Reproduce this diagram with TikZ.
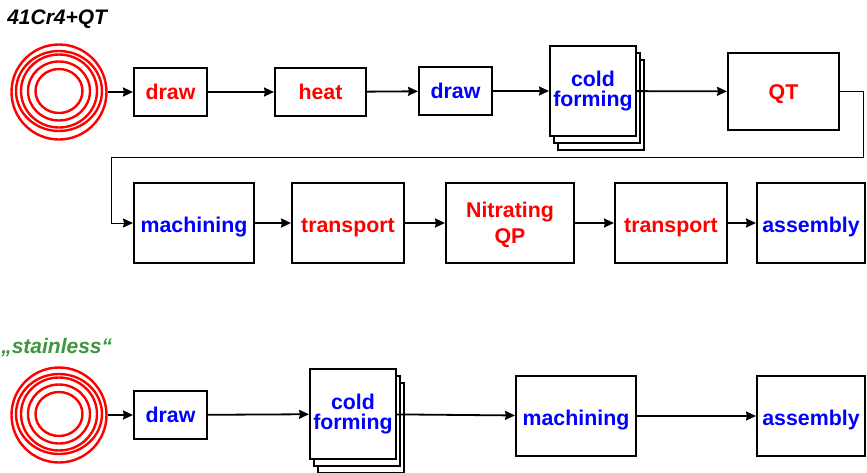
\documentclass[tikz,border=0pt]{standalone}
\usepackage{fontspec}
\setmainfont{Liberation Sans}
\usetikzlibrary{
    shapes.geometric,
    arrows.meta
}
\definecolor{stainlessgreen}{RGB}{62, 150, 62}
\definecolor{coilred}{RGB}{255, 0, 0}
\definecolor{stepblue}{RGB}{0, 0, 255}
\def\px{0.75pt}

\begin{document}
\begin{tikzpicture}[
        x=0.75pt, y=-0.75pt,
        block/.style={draw, line width=1.8*\px, fill=white, align=center, outer sep=1*\px,
            inner sep=0pt, font=\fontsize{16}{15}\selectfont\bfseries},
        oneline/.style={text height=18*\px, text depth=0pt},
        shortline/.style={text height=15.5*\px, text depth=0pt},
        stacked/.style={draw, line width=1.8*\px, fill=white, minimum width=86*\px, minimum height=90*\px},
        ring/.style={draw=coilred, ellipse, line width=2.4*\px, inner sep=0pt},
        title/.style={font=\fontsize{15.75}{15}\selectfont\bfseries\itshape, inner sep=0pt},
        arrow/.style={-{Stealth[length=10*\px, width=9*\px, inset=1*\px]}, line width=1.8*\px},
        thinarrow/.style={-{Stealth[length=10*\px, width=9*\px, inset=1*\px]}, line width=0.9*\px}
    ]
        \useasboundingbox (0, 0) rectangle (867, 472);

        % Titles
        \node[title, anchor=west] (titleqt) at (7, 19) {41Cr4+QT};
        \node[title, anchor=west, text=stainlessgreen] (titlest) at (1, 348) {„stainless“};

        % Upper coil
        \node[ring, minimum width=95*\px, minimum height=95*\px] (coil) at (59, 92) {};
        \node[ring, minimum width=86*\px, minimum height=80*\px] (coilb) at (59, 91) {};
        \node[ring, minimum width=76*\px, minimum height=73*\px] (coilc) at (59, 91) {};
        \node[ring, minimum width=62*\px, minimum height=59*\px] (coild) at (59, 91) {};
        \node[ring, minimum width=47*\px, minimum height=44*\px] (coile) at (59, 91) {};

        % First row
        \node[block, shortline, text=red, minimum width=73*\px, minimum height=48*\px] (drawa) at (170.5, 92) {draw};
        \node[block, shortline, text=red, minimum width=91*\px, minimum height=48*\px] (heat) at (320.5, 92) {heat};
        \node[block, shortline, text=stepblue, minimum width=73*\px, minimum height=48*\px] (drawb) at (455.5, 91) {draw};
        \node[stacked] (coldc) at (601, 105) {};
        \node[stacked] (coldb) at (597, 98) {};
        \node[block, text=stepblue, minimum width=86*\px, minimum height=90*\px] (colda) at (593, 91) {cold\\forming};
        \node[block, shortline, text=red, minimum width=111*\px, minimum height=77*\px] (qt) at (783.5, 91.5) {QT};

        % Second row
        \coordinate (turnr) at (863, 157);
        \coordinate (turnl) at (111, 157);
        \node[block, oneline, text=stepblue, minimum width=120*\px, minimum height=80*\px] (macha) at (194, 223) {machining};
        \node[block, oneline, text=red, minimum width=112*\px, minimum height=80*\px] (transa) at (348, 223) {transport};
        \node[block, text=red, text depth=0pt, minimum width=128*\px, minimum height=80*\px] (nitr) at (510, 223) {Nitrating\\[4.5pt]QP};
        \node[block, oneline, text=red, minimum width=112*\px, minimum height=80*\px] (transb) at (671, 223) {transport};
        \node[block, oneline, text=stepblue, minimum width=108*\px, minimum height=80*\px] (assya) at (811, 223) {assembly};

        % Lower coil
        \node[ring, minimum width=95*\px, minimum height=95*\px] (coilf) at (59, 415) {};
        \node[ring, minimum width=86*\px, minimum height=80*\px] (coilg) at (59, 414) {};
        \node[ring, minimum width=76*\px, minimum height=73*\px] (coilh) at (59, 414) {};
        \node[ring, minimum width=62*\px, minimum height=59*\px] (coili) at (59, 414) {};
        \node[ring, minimum width=47*\px, minimum height=44*\px] (coilj) at (59, 414) {};

        % Third row
        \node[block, shortline, text=stepblue, minimum width=73*\px, minimum height=48*\px] (drawc) at (170.5, 415) {draw};
        \node[stacked] (coldf) at (361, 428) {};
        \node[stacked] (colde) at (357, 421) {};
        \node[block, text=stepblue, minimum width=86*\px, minimum height=90*\px] (coldd) at (353, 414) {cold\\forming};
        \node[block, oneline, text=stepblue, minimum width=120*\px, minimum height=80*\px] (machb) at (576, 416) {machining};
        \node[block, oneline, text=stepblue, minimum width=108*\px, minimum height=80*\px] (assyb) at (811, 416) {assembly};

        % Arrows
        \draw[arrow] (coil) -- (drawa);
        \draw[arrow] (drawa) -- (heat);
        \draw[arrow] (heat) -- (drawb);
        \draw[arrow] (drawb) -- (colda);
        \draw[arrow] (colda) -- (qt);

        \draw[thinarrow] (qt) -| (turnr) -| (turnl) |- (macha);

        \draw[arrow] (macha) -- (transa);
        \draw[arrow] (transa) -- (nitr);
        \draw[arrow] (nitr) -- (transb);
        \draw[arrow] (transb) -- (assya);

        \draw[arrow] (coilf) -- (drawc);
        \draw[arrow] (drawc) -- (coldd);
        \draw[arrow] (coldd) -- (machb);
        \draw[arrow] (machb) -- (assyb);
    \end{tikzpicture}
\end{document}
